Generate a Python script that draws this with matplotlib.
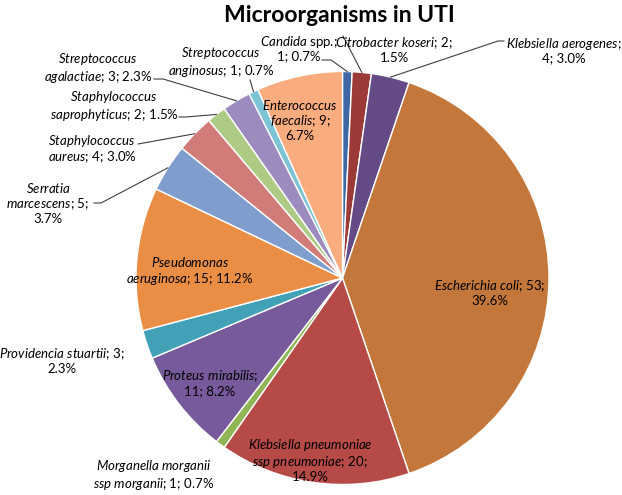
#!/usr/bin/env python3
import matplotlib
matplotlib.use("Agg")
import matplotlib.pyplot as plt
import numpy as np

plt.rcParams['font.family'] = ['Lato', 'DejaVu Sans']
plt.rcParams['mathtext.fontset'] = 'custom'
plt.rcParams['mathtext.rm'] = 'Lato'
plt.rcParams['mathtext.it'] = 'Lato:italic'

##########################################################################
# DATA
##########################################################################

names = ["Candida spp.", "Citrobacter koseri", "Klebsiella aerogenes",
         "Escherichia coli", "Klebsiella pneumoniae ssp pneumoniae",
         "Morganella morganii ssp morganii", "Proteus mirabilis",
         "Providencia stuartii", "Pseudomonas aeruginosa",
         "Serratia marcescens", "Staphylococcus aureus",
         "Staphylococcus saprophyticus", "Streptococcus agalactiae",
         "Streptococcus anginosus", "Enterococcus faecalis"]
counts = [1, 2, 4, 53, 20, 1, 11, 3, 15, 5, 4, 2, 3, 1, 9]
pct_labels = ["0.7%", "1.5%", "3.0%", "39.6%", "14.9%", "0.7%", "8.2%",
              "2.3%", "11.2%", "3.7%", "3.0%", "1.5%", "2.3%", "0.7%", "6.7%"]

colors = ["#3D67A5", "#9C3A38", "#644B86", "#C4773A", "#B64A47",
          "#8FB554", "#775A9C", "#42A1B7", "#EB8E45", "#7F9DCD",
          "#D27C7A", "#AECB86", "#9C8BBF", "#7CC3D6", "#F9AC7E"]

##########################################################################
# LAYOUT (pixels in the 622x495 picture)
##########################################################################

W, H = 622, 495
CX, CY, R = 342.5, 278.0, 206.5

# words on each line of a label
line_words = [[2, 2], [3, 1], [2, 2], [3, 1], [2, 3, 1], [2, 4], [2, 2],
              [3, 1], [1, 3], [1, 2, 1], [1, 3], [1, 3], [1, 3], [1, 3],
              [1, 2, 1]]
label_px = [(299, 48), (394, 50), (564, 50), (490, 293), (310, 460),
            (154, 475), (210, 383), (62, 361), (190, 271), (48, 203),
            (92, 149), (114, 106), (98, 68), (221, 62), (300, 120)]
# leader line start points, optional short stub
leaders = {0: [(322, 60), (331, 60)],
           1: [(343, 36)],
           2: [(504, 41), (498, 41)],
           9: [(94, 203), (101, 203)],
           10: [(138, 144)],
           11: [(179, 117), (186, 117)],
           12: [(154, 79), (163, 79)],
           13: [(250, 80)]}


def px(x, y):
    return (x - CX) / R, (CY - y) / R


def make_label(name, count, pct, split):
    words = []
    for w in name.split():
        if w == "spp.":
            words.append(w)
        else:
            words.append(r"$\mathit{" + w + "}$")
    words[-1] += ";"
    words += ["%d;" % count, pct]
    lines = []
    i = 0
    for n in split:
        lines.append(" ".join(words[i:i + n]))
        i += n
    return "\n".join(lines)


##########################################################################
# GRAPHING
##########################################################################

fig = plt.figure(figsize=(W / 100, H / 100), dpi=100)
ax = fig.add_axes([0, 0, 1, 1])

wedges, _ = ax.pie(counts, colors=colors, startangle=90, counterclock=False,
                   radius=1, center=(0, 0),
                   wedgeprops=dict(edgecolor="white", linewidth=1.0))

# labels
for i in range(len(names)):
    x, y = px(*label_px[i])
    ax.text(x, y, make_label(names[i], counts[i], pct_labels[i], line_words[i]),
            ha="center", va="center", fontsize=9.5, color="black",
            linespacing=1.1, multialignment="center")

# leader lines to the middle of each slice edge
for i, pts in leaders.items():
    w = wedges[i]
    mid = np.deg2rad((w.theta1 + w.theta2) / 2)
    xs = [px(*p)[0] for p in pts] + [np.cos(mid)]
    ys = [px(*p)[1] for p in pts] + [np.sin(mid)]
    ax.plot(xs, ys, color="#404040", linewidth=0.8)

tx, ty = px(339, 15)
ax.text(tx, ty, "Microorganisms in UTI", ha="center", va="center",
        fontsize=16.5, fontweight="bold", color="black")

ax.set_xlim(-CX / R, (W - CX) / R)
ax.set_ylim(-(H - CY) / R, CY / R)
ax.set_aspect("auto")
ax.axis("off")

fig.savefig("out.png", dpi=100)
